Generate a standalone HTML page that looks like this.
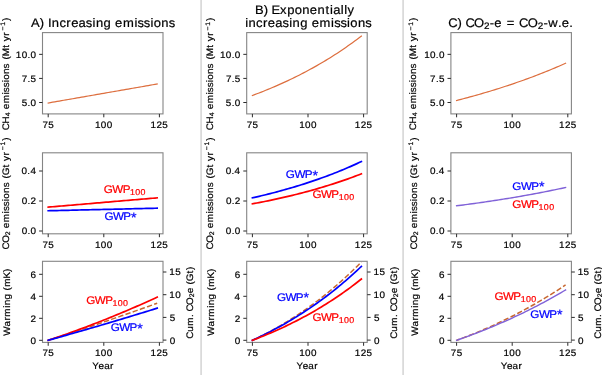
<!DOCTYPE html>
<html><head><meta charset="utf-8"><style>
html,body{margin:0;padding:0;background:#fff;}
body{width:602px;height:375px;overflow:hidden;font-family:"Liberation Sans", sans-serif;}
svg{display:block;will-change:transform;text-rendering:geometricPrecision;}
</style></head><body>
<svg width="602" height="375" viewBox="0 0 602 375" font-family='"Liberation Sans", sans-serif'>
<rect width="602" height="375" fill="#fff"/>
<rect x="200.3" y="0" width="1.6" height="375" fill="#d6d6d6"/>
<rect x="402.3" y="0" width="1.6" height="375" fill="#d6d6d6"/>
<path d="M48.20,102.98 L50.42,102.59 L52.65,102.21 L54.87,101.82 L57.10,101.43 L59.32,101.05 L61.54,100.66 L63.77,100.27 L65.99,99.88 L68.22,99.50 L70.44,99.11 L72.66,98.72 L74.89,98.34 L77.11,97.95 L79.34,97.56 L81.56,97.17 L83.78,96.79 L86.01,96.40 L88.23,96.01 L90.46,95.63 L92.68,95.24 L94.90,94.85 L97.13,94.46 L99.35,94.08 L101.58,93.69 L103.80,93.30 L106.02,92.92 L108.25,92.53 L110.47,92.14 L112.70,91.75 L114.92,91.37 L117.14,90.98 L119.37,90.59 L121.59,90.21 L123.82,89.82 L126.04,89.43 L128.26,89.04 L130.49,88.66 L132.71,88.27 L134.94,87.88 L137.16,87.49 L139.38,87.11 L141.61,86.72 L143.83,86.33 L146.06,85.95 L148.28,85.56 L150.50,85.17 L152.73,84.78 L154.95,84.40 L157.18,84.01" fill="none" stroke="#dd6e3e" stroke-width="1.2" stroke-linecap="square" stroke-linejoin="round"/>
<path d="M48.20,207.15 L50.42,206.96 L52.65,206.77 L54.87,206.58 L57.10,206.39 L59.32,206.20 L61.54,206.01 L63.77,205.82 L65.99,205.63 L68.22,205.44 L70.44,205.25 L72.66,205.06 L74.89,204.87 L77.11,204.68 L79.34,204.49 L81.56,204.30 L83.78,204.11 L86.01,203.92 L88.23,203.73 L90.46,203.54 L92.68,203.35 L94.90,203.16 L97.13,202.97 L99.35,202.78 L101.58,202.59 L103.80,202.41 L106.02,202.22 L108.25,202.03 L110.47,201.84 L112.70,201.65 L114.92,201.46 L117.14,201.27 L119.37,201.08 L121.59,200.89 L123.82,200.70 L126.04,200.51 L128.26,200.32 L130.49,200.13 L132.71,199.94 L134.94,199.75 L137.16,199.56 L139.38,199.37 L141.61,199.18 L143.83,198.99 L146.06,198.80 L148.28,198.61 L150.50,198.42 L152.73,198.23 L154.95,198.04 L157.18,197.85" fill="none" stroke="#ff0000" stroke-width="1.7" stroke-linecap="square" stroke-linejoin="round"/>
<path d="M48.20,210.75 L50.42,210.70 L52.65,210.65 L54.87,210.59 L57.10,210.54 L59.32,210.49 L61.54,210.44 L63.77,210.39 L65.99,210.33 L68.22,210.28 L70.44,210.23 L72.66,210.18 L74.89,210.13 L77.11,210.07 L79.34,210.02 L81.56,209.97 L83.78,209.92 L86.01,209.87 L88.23,209.81 L90.46,209.76 L92.68,209.71 L94.90,209.66 L97.13,209.61 L99.35,209.55 L101.58,209.50 L103.80,209.45 L106.02,209.40 L108.25,209.34 L110.47,209.29 L112.70,209.24 L114.92,209.19 L117.14,209.14 L119.37,209.08 L121.59,209.03 L123.82,208.98 L126.04,208.93 L128.26,208.88 L130.49,208.82 L132.71,208.77 L134.94,208.72 L137.16,208.67 L139.38,208.62 L141.61,208.56 L143.83,208.51 L146.06,208.46 L148.28,208.41 L150.50,208.36 L152.73,208.30 L154.95,208.25 L157.18,208.20" fill="none" stroke="#0000ff" stroke-width="1.7" stroke-linecap="square" stroke-linejoin="round"/>
<path d="M48.20,340.30 L50.42,339.59 L52.65,338.87 L54.87,338.16 L57.10,337.44 L59.32,336.72 L61.54,336.00 L63.77,335.27 L65.99,334.55 L68.22,333.82 L70.44,333.09 L72.66,332.36 L74.89,331.63 L77.11,330.89 L79.34,330.16 L81.56,329.42 L83.78,328.68 L86.01,327.94 L88.23,327.19 L90.46,326.45 L92.68,325.70 L94.90,324.95 L97.13,324.20 L99.35,323.45 L101.58,322.69 L103.80,321.94 L106.02,321.18 L108.25,320.42 L110.47,319.65 L112.70,318.89 L114.92,318.13 L117.14,317.36 L119.37,316.59 L121.59,315.82 L123.82,315.04 L126.04,314.27 L128.26,313.49 L130.49,312.71 L132.71,311.93 L134.94,311.15 L137.16,310.37 L139.38,309.58 L141.61,308.79 L143.83,308.01 L146.06,307.21 L148.28,306.42 L150.50,305.63 L152.73,304.83 L154.95,304.03 L157.18,303.23" fill="none" stroke="#c8672f" stroke-width="1.5" stroke-dasharray="5.3,2.3" stroke-linecap="butt" stroke-linejoin="round" stroke-dashoffset="2.1"/>
<path d="M48.20,340.30 L50.42,339.56 L52.65,338.82 L54.87,338.06 L57.10,337.31 L59.32,336.54 L61.54,335.78 L63.77,335.00 L65.99,334.22 L68.22,333.43 L70.44,332.64 L72.66,331.84 L74.89,331.04 L77.11,330.23 L79.34,329.42 L81.56,328.59 L83.78,327.77 L86.01,326.93 L88.23,326.10 L90.46,325.25 L92.68,324.40 L94.90,323.54 L97.13,322.68 L99.35,321.81 L101.58,320.94 L103.80,320.06 L106.02,319.17 L108.25,318.28 L110.47,317.38 L112.70,316.48 L114.92,315.57 L117.14,314.66 L119.37,313.73 L121.59,312.81 L123.82,311.87 L126.04,310.94 L128.26,309.99 L130.49,309.04 L132.71,308.08 L134.94,307.12 L137.16,306.15 L139.38,305.18 L141.61,304.20 L143.83,303.22 L146.06,302.22 L148.28,301.23 L150.50,300.22 L152.73,299.22 L154.95,298.20 L157.18,297.18" fill="none" stroke="#ff0000" stroke-width="1.7" stroke-linecap="square" stroke-linejoin="round"/>
<path d="M48.20,340.30 L50.42,339.68 L52.65,339.06 L54.87,338.44 L57.10,337.82 L59.32,337.20 L61.54,336.57 L63.77,335.94 L65.99,335.32 L68.22,334.69 L70.44,334.05 L72.66,333.42 L74.89,332.79 L77.11,332.15 L79.34,331.51 L81.56,330.87 L83.78,330.23 L86.01,329.59 L88.23,328.94 L90.46,328.30 L92.68,327.65 L94.90,327.00 L97.13,326.35 L99.35,325.70 L101.58,325.04 L103.80,324.39 L106.02,323.73 L108.25,323.07 L110.47,322.41 L112.70,321.75 L114.92,321.09 L117.14,320.42 L119.37,319.75 L121.59,319.09 L123.82,318.42 L126.04,317.75 L128.26,317.07 L130.49,316.40 L132.71,315.72 L134.94,315.04 L137.16,314.36 L139.38,313.68 L141.61,313.00 L143.83,312.32 L146.06,311.63 L148.28,310.94 L150.50,310.26 L152.73,309.57 L154.95,308.87 L157.18,308.18" fill="none" stroke="#0000ff" stroke-width="1.7" stroke-linecap="square" stroke-linejoin="round"/>
<rect x="42.5" y="32.6" width="120.50" height="81.30" fill="none" stroke="#858585" stroke-width="1.1"/>
<line x1="48.20" y1="113.9" x2="48.20" y2="117.30" stroke="#2a2a2a" stroke-width="1.0"/>
<text transform="translate(48.20,127.90) scale(1.05,1)" fill="#000" stroke="#000" stroke-width="0.2"><tspan x="-5.47 0.14" y="0.00" font-size="9.44">75</tspan></text>
<line x1="103.80" y1="113.9" x2="103.80" y2="117.30" stroke="#2a2a2a" stroke-width="1.0"/>
<text transform="translate(103.80,127.90) scale(1.05,1)" fill="#000" stroke="#000" stroke-width="0.2"><tspan x="-8.40 -2.80 2.81" y="0.00" font-size="9.44">100</tspan></text>
<line x1="159.40" y1="113.9" x2="159.40" y2="117.30" stroke="#2a2a2a" stroke-width="1.0"/>
<text transform="translate(159.40,127.90) scale(1.05,1)" fill="#000" stroke="#000" stroke-width="0.2"><tspan x="-8.39 -2.78 2.82" y="0.00" font-size="9.44">125</tspan></text>
<line x1="39.10" y1="54.35" x2="42.5" y2="54.35" stroke="#2a2a2a" stroke-width="1.0"/>
<text transform="translate(35.60,57.75) scale(1.05,1)" fill="#000" stroke="#000" stroke-width="0.2"><tspan x="-18.89 -13.28 -7.77 -4.88" y="0.00" font-size="9.44">10.0</tspan></text>
<line x1="39.10" y1="78.42" x2="42.5" y2="78.42" stroke="#2a2a2a" stroke-width="1.0"/>
<text transform="translate(35.60,81.83) scale(1.05,1)" fill="#000" stroke="#000" stroke-width="0.2"><tspan x="-13.26 -7.74 -4.85" y="0.00" font-size="9.44">7.5</tspan></text>
<line x1="39.10" y1="102.50" x2="42.5" y2="102.50" stroke="#2a2a2a" stroke-width="1.0"/>
<text transform="translate(35.60,105.90) scale(1.05,1)" fill="#000" stroke="#000" stroke-width="0.2"><tspan x="-13.28 -7.77 -4.88" y="0.00" font-size="9.44">5.0</tspan></text>
<rect x="42.5" y="152.8" width="120.50" height="81.00" fill="none" stroke="#858585" stroke-width="1.1"/>
<line x1="48.20" y1="233.8" x2="48.20" y2="237.20" stroke="#2a2a2a" stroke-width="1.0"/>
<text transform="translate(48.20,247.80) scale(1.05,1)" fill="#000" stroke="#000" stroke-width="0.2"><tspan x="-5.47 0.14" y="0.00" font-size="9.44">75</tspan></text>
<line x1="103.80" y1="233.8" x2="103.80" y2="237.20" stroke="#2a2a2a" stroke-width="1.0"/>
<text transform="translate(103.80,247.80) scale(1.05,1)" fill="#000" stroke="#000" stroke-width="0.2"><tspan x="-8.40 -2.80 2.81" y="0.00" font-size="9.44">100</tspan></text>
<line x1="159.40" y1="233.8" x2="159.40" y2="237.20" stroke="#2a2a2a" stroke-width="1.0"/>
<text transform="translate(159.40,247.80) scale(1.05,1)" fill="#000" stroke="#000" stroke-width="0.2"><tspan x="-8.39 -2.78 2.82" y="0.00" font-size="9.44">125</tspan></text>
<line x1="39.10" y1="171.00" x2="42.5" y2="171.00" stroke="#2a2a2a" stroke-width="1.0"/>
<text transform="translate(35.60,174.40) scale(1.05,1)" fill="#000" stroke="#000" stroke-width="0.2"><tspan x="-13.38 -7.86 -4.97" y="0.00" font-size="9.44">0.4</tspan></text>
<line x1="39.10" y1="201.00" x2="42.5" y2="201.00" stroke="#2a2a2a" stroke-width="1.0"/>
<text transform="translate(35.60,204.40) scale(1.05,1)" fill="#000" stroke="#000" stroke-width="0.2"><tspan x="-13.18 -7.66 -4.77" y="0.00" font-size="9.44">0.2</tspan></text>
<line x1="39.10" y1="231.00" x2="42.5" y2="231.00" stroke="#2a2a2a" stroke-width="1.0"/>
<text transform="translate(35.60,234.40) scale(1.05,1)" fill="#000" stroke="#000" stroke-width="0.2"><tspan x="-13.28 -7.77 -4.88" y="0.00" font-size="9.44">0.0</tspan></text>
<rect x="42.5" y="261.3" width="120.50" height="81.10" fill="none" stroke="#858585" stroke-width="1.1"/>
<line x1="48.20" y1="342.4" x2="48.20" y2="345.80" stroke="#2a2a2a" stroke-width="1.0"/>
<text transform="translate(48.20,356.40) scale(1.05,1)" fill="#000" stroke="#000" stroke-width="0.2"><tspan x="-5.47 0.14" y="0.00" font-size="9.44">75</tspan></text>
<line x1="103.80" y1="342.4" x2="103.80" y2="345.80" stroke="#2a2a2a" stroke-width="1.0"/>
<text transform="translate(103.80,356.40) scale(1.05,1)" fill="#000" stroke="#000" stroke-width="0.2"><tspan x="-8.40 -2.80 2.81" y="0.00" font-size="9.44">100</tspan></text>
<line x1="159.40" y1="342.4" x2="159.40" y2="345.80" stroke="#2a2a2a" stroke-width="1.0"/>
<text transform="translate(159.40,356.40) scale(1.05,1)" fill="#000" stroke="#000" stroke-width="0.2"><tspan x="-8.39 -2.78 2.82" y="0.00" font-size="9.44">125</tspan></text>
<line x1="39.10" y1="274.30" x2="42.5" y2="274.30" stroke="#2a2a2a" stroke-width="1.0"/>
<text transform="translate(35.60,277.70) scale(1.05,1)" fill="#000" stroke="#000" stroke-width="0.2"><tspan x="-4.83" y="0.00" font-size="9.44">6</tspan></text>
<line x1="39.10" y1="296.30" x2="42.5" y2="296.30" stroke="#2a2a2a" stroke-width="1.0"/>
<text transform="translate(35.60,299.70) scale(1.05,1)" fill="#000" stroke="#000" stroke-width="0.2"><tspan x="-4.97" y="0.00" font-size="9.44">4</tspan></text>
<line x1="39.10" y1="318.30" x2="42.5" y2="318.30" stroke="#2a2a2a" stroke-width="1.0"/>
<text transform="translate(35.60,321.70) scale(1.05,1)" fill="#000" stroke="#000" stroke-width="0.2"><tspan x="-4.77" y="0.00" font-size="9.44">2</tspan></text>
<line x1="39.10" y1="340.30" x2="42.5" y2="340.30" stroke="#2a2a2a" stroke-width="1.0"/>
<text transform="translate(35.60,343.70) scale(1.05,1)" fill="#000" stroke="#000" stroke-width="0.2"><tspan x="-4.88" y="0.00" font-size="9.44">0</tspan></text>
<line x1="163.0" y1="340.10" x2="166.40" y2="340.10" stroke="#2a2a2a" stroke-width="1.0"/>
<text transform="translate(170.10,343.50) scale(1.05,1)" fill="#000" stroke="#000" stroke-width="0.2"><tspan x="-0.37" y="0.00" font-size="9.44">0</tspan></text>
<line x1="163.0" y1="317.40" x2="166.40" y2="317.40" stroke="#2a2a2a" stroke-width="1.0"/>
<text transform="translate(170.10,320.80) scale(1.05,1)" fill="#000" stroke="#000" stroke-width="0.2"><tspan x="-0.38" y="0.00" font-size="9.44">5</tspan></text>
<line x1="163.0" y1="294.70" x2="166.40" y2="294.70" stroke="#2a2a2a" stroke-width="1.0"/>
<text transform="translate(170.10,298.10) scale(1.05,1)" fill="#000" stroke="#000" stroke-width="0.2"><tspan x="-0.72 4.89" y="0.00" font-size="9.44">10</tspan></text>
<line x1="163.0" y1="272.00" x2="166.40" y2="272.00" stroke="#2a2a2a" stroke-width="1.0"/>
<text transform="translate(170.10,275.40) scale(1.05,1)" fill="#000" stroke="#000" stroke-width="0.2"><tspan x="-0.72 4.89" y="0.00" font-size="9.44">15</tspan></text>
<text transform="translate(8.80,129.70) rotate(-90) scale(1.05,1)" fill="#000" stroke="#000" stroke-width="0.2"><tspan x="-0.48 5.91" y="0.00" font-size="9.44">CH</tspan><tspan x="12.75" y="1.00" font-size="6.60">4</tspan><tspan x="16.64 19.44 25.13 33.53 35.74 40.33 45.16 47.50 52.99 58.34 63.94 66.80 69.96 78.10 81.23 84.19 89.39" y="0.00" font-size="9.44"> emissions (Mt yr</tspan><tspan x="94.38 99.02" y="-3.60" font-size="6.60">−1</tspan><tspan x="103.54" y="0.00" font-size="9.44">)</tspan></text>
<text transform="translate(8.70,248.90) rotate(-90) scale(1.05,1)" fill="#000" stroke="#000" stroke-width="0.2"><tspan x="-0.48 5.80" y="0.00" font-size="9.44">CO</tspan><tspan x="13.06" y="1.00" font-size="6.60">2</tspan><tspan x="16.95 19.75 25.44 33.84 36.05 40.64 45.47 47.81 53.29 58.65 64.25 67.10 70.14 77.64 80.76 83.72 88.93" y="0.00" font-size="9.44"> emissions (Gt yr</tspan><tspan x="93.92 98.56" y="-3.60" font-size="6.60">−1</tspan><tspan x="103.07" y="0.00" font-size="9.44">)</tspan></text>
<text transform="translate(9.90,335.70) rotate(-90) scale(1.05,1)" fill="#000" stroke="#000" stroke-width="0.2"><tspan x="-0.04 8.84 14.40 18.15 26.54 28.98 34.57 40.08 42.94 46.59 54.55 60.73" y="0.00" font-size="9.44">Warming (mK)</tspan></text>
<text transform="translate(192.70,338.20) rotate(-90) scale(1.05,1)" fill="#000" stroke="#000" stroke-width="0.2"><tspan x="-0.48 6.17 11.95 20.26 23.06 25.44 31.72" y="0.00" font-size="9.44">Cum. CO</tspan><tspan x="38.98" y="1.00" font-size="6.60">2</tspan><tspan x="42.86 48.29 51.15 54.18 61.68 64.86" y="0.00" font-size="9.44">e (Gt)</tspan></text>
<text transform="translate(102.80,369.00) scale(1.05,1)" fill="#000" stroke="#000" stroke-width="0.2"><tspan x="-10.05 -4.12 1.29 6.85" y="0.00" font-size="9.44">Year</tspan></text>
<path d="M252.40,95.47 L254.62,94.64 L256.85,93.80 L259.07,92.95 L261.30,92.08 L263.52,91.20 L265.74,90.30 L267.97,89.40 L270.19,88.48 L272.42,87.54 L274.64,86.59 L276.86,85.63 L279.09,84.66 L281.31,83.66 L283.54,82.66 L285.76,81.64 L287.98,80.60 L290.21,79.55 L292.43,78.48 L294.66,77.39 L296.88,76.29 L299.10,75.17 L301.33,74.04 L303.55,72.89 L305.78,71.72 L308.00,70.53 L310.22,69.33 L312.45,68.11 L314.67,66.87 L316.90,65.61 L319.12,64.33 L321.34,63.03 L323.57,61.72 L325.79,60.38 L328.02,59.03 L330.24,57.65 L332.46,56.25 L334.69,54.83 L336.91,53.39 L339.14,51.93 L341.36,50.45 L343.58,48.94 L345.81,47.41 L348.03,45.86 L350.26,44.29 L352.48,42.69 L354.70,41.07 L356.93,39.42 L359.15,37.75 L361.38,36.05" fill="none" stroke="#dd6e3e" stroke-width="1.2" stroke-linecap="square" stroke-linejoin="round"/>
<path d="M252.40,197.85 L254.62,197.35 L256.85,196.83 L259.07,196.31 L261.30,195.79 L263.52,195.25 L265.74,194.71 L267.97,194.16 L270.19,193.60 L272.42,193.03 L274.64,192.45 L276.86,191.86 L279.09,191.27 L281.31,190.66 L283.54,190.05 L285.76,189.43 L287.98,188.80 L290.21,188.15 L292.43,187.50 L294.66,186.84 L296.88,186.17 L299.10,185.49 L301.33,184.79 L303.55,184.09 L305.78,183.38 L308.00,182.65 L310.22,181.92 L312.45,181.17 L314.67,180.42 L316.90,179.65 L319.12,178.86 L321.34,178.07 L323.57,177.27 L325.79,176.45 L328.02,175.62 L330.24,174.78 L332.46,173.92 L334.69,173.06 L336.91,172.17 L339.14,171.28 L341.36,170.37 L343.58,169.45 L345.81,168.51 L348.03,167.56 L350.26,166.60 L352.48,165.62 L354.70,164.62 L356.93,163.62 L359.15,162.59 L361.38,161.55" fill="none" stroke="#0000ff" stroke-width="1.7" stroke-linecap="square" stroke-linejoin="round"/>
<path d="M252.40,203.85 L254.62,203.43 L256.85,203.01 L259.07,202.58 L261.30,202.15 L263.52,201.71 L265.74,201.26 L267.97,200.80 L270.19,200.34 L272.42,199.87 L274.64,199.40 L276.86,198.91 L279.09,198.42 L281.31,197.92 L283.54,197.42 L285.76,196.90 L287.98,196.38 L290.21,195.85 L292.43,195.31 L294.66,194.77 L296.88,194.21 L299.10,193.65 L301.33,193.08 L303.55,192.50 L305.78,191.91 L308.00,191.31 L310.22,190.70 L312.45,190.08 L314.67,189.46 L316.90,188.82 L319.12,188.18 L321.34,187.52 L323.57,186.86 L325.79,186.18 L328.02,185.49 L330.24,184.80 L332.46,184.09 L334.69,183.37 L336.91,182.64 L339.14,181.90 L341.36,181.15 L343.58,180.39 L345.81,179.61 L348.03,178.83 L350.26,178.03 L352.48,177.22 L354.70,176.40 L356.93,175.56 L359.15,174.71 L361.38,173.85" fill="none" stroke="#ff0000" stroke-width="1.7" stroke-linecap="square" stroke-linejoin="round"/>
<path d="M252.40,340.30 L254.62,339.26 L256.85,338.19 L259.07,337.11 L261.30,336.00 L263.52,334.87 L265.74,333.71 L267.97,332.54 L270.19,331.35 L272.42,330.13 L274.64,328.90 L276.86,327.64 L279.09,326.36 L281.31,325.06 L283.54,323.74 L285.76,322.40 L287.98,321.04 L290.21,319.66 L292.43,318.25 L294.66,316.82 L296.88,315.37 L299.10,313.89 L301.33,312.39 L303.55,310.87 L305.78,309.32 L308.00,307.75 L310.22,306.16 L312.45,304.54 L314.67,302.90 L316.90,301.23 L319.12,299.53 L321.34,297.81 L323.57,296.06 L325.79,294.29 L328.02,292.49 L330.24,290.66 L332.46,288.81 L334.69,286.92 L336.91,285.01 L339.14,283.07 L341.36,281.10 L343.58,279.10 L345.81,277.07 L348.03,275.01 L350.26,272.92 L352.48,270.79 L354.70,268.64 L356.93,266.45 L359.15,264.23 L361.38,261.98" fill="none" stroke="#c8672f" stroke-width="1.5" stroke-dasharray="5.3,2.3" stroke-linecap="butt" stroke-linejoin="round" stroke-dashoffset="2.1"/>
<path d="M252.40,340.30 L254.62,339.27 L256.85,338.23 L259.07,337.17 L261.30,336.10 L263.52,335.01 L265.74,333.90 L267.97,332.78 L270.19,331.64 L272.42,330.48 L274.64,329.30 L276.86,328.11 L279.09,326.90 L281.31,325.67 L283.54,324.42 L285.76,323.15 L287.98,321.86 L290.21,320.55 L292.43,319.23 L294.66,317.88 L296.88,316.51 L299.10,315.12 L301.33,313.71 L303.55,312.28 L305.78,310.83 L308.00,309.36 L310.22,307.86 L312.45,306.34 L314.67,304.80 L316.90,303.23 L319.12,301.64 L321.34,300.03 L323.57,298.39 L325.79,296.72 L328.02,295.03 L330.24,293.32 L332.46,291.58 L334.69,289.81 L336.91,288.01 L339.14,286.19 L341.36,284.34 L343.58,282.47 L345.81,280.56 L348.03,278.62 L350.26,276.66 L352.48,274.67 L354.70,272.64 L356.93,270.59 L359.15,268.50 L361.38,266.38" fill="none" stroke="#0000ff" stroke-width="1.7" stroke-linecap="square" stroke-linejoin="round"/>
<path d="M252.40,340.30 L254.62,339.45 L256.85,338.59 L259.07,337.71 L261.30,336.83 L263.52,335.92 L265.74,335.01 L267.97,334.08 L270.19,333.14 L272.42,332.18 L274.64,331.20 L276.86,330.22 L279.09,329.21 L281.31,328.19 L283.54,327.16 L285.76,326.11 L287.98,325.04 L290.21,323.96 L292.43,322.86 L294.66,321.75 L296.88,320.62 L299.10,319.47 L301.33,318.30 L303.55,317.11 L305.78,315.91 L308.00,314.69 L310.22,313.45 L312.45,312.19 L314.67,310.91 L316.90,309.61 L319.12,308.29 L321.34,306.95 L323.57,305.59 L325.79,304.21 L328.02,302.81 L330.24,301.39 L332.46,299.95 L334.69,298.48 L336.91,296.99 L339.14,295.48 L341.36,293.94 L343.58,292.39 L345.81,290.80 L348.03,289.20 L350.26,287.57 L352.48,285.91 L354.70,284.23 L356.93,282.52 L359.15,280.79 L361.38,279.03" fill="none" stroke="#ff0000" stroke-width="1.7" stroke-linecap="square" stroke-linejoin="round"/>
<rect x="246.7" y="32.6" width="120.50" height="81.30" fill="none" stroke="#858585" stroke-width="1.1"/>
<line x1="252.40" y1="113.9" x2="252.40" y2="117.30" stroke="#2a2a2a" stroke-width="1.0"/>
<text transform="translate(252.40,127.90) scale(1.05,1)" fill="#000" stroke="#000" stroke-width="0.2"><tspan x="-5.47 0.14" y="0.00" font-size="9.44">75</tspan></text>
<line x1="308.00" y1="113.9" x2="308.00" y2="117.30" stroke="#2a2a2a" stroke-width="1.0"/>
<text transform="translate(308.00,127.90) scale(1.05,1)" fill="#000" stroke="#000" stroke-width="0.2"><tspan x="-8.40 -2.80 2.81" y="0.00" font-size="9.44">100</tspan></text>
<line x1="363.60" y1="113.9" x2="363.60" y2="117.30" stroke="#2a2a2a" stroke-width="1.0"/>
<text transform="translate(363.60,127.90) scale(1.05,1)" fill="#000" stroke="#000" stroke-width="0.2"><tspan x="-8.39 -2.78 2.82" y="0.00" font-size="9.44">125</tspan></text>
<line x1="243.30" y1="54.35" x2="246.7" y2="54.35" stroke="#2a2a2a" stroke-width="1.0"/>
<text transform="translate(239.80,57.75) scale(1.05,1)" fill="#000" stroke="#000" stroke-width="0.2"><tspan x="-18.89 -13.28 -7.77 -4.88" y="0.00" font-size="9.44">10.0</tspan></text>
<line x1="243.30" y1="78.42" x2="246.7" y2="78.42" stroke="#2a2a2a" stroke-width="1.0"/>
<text transform="translate(239.80,81.83) scale(1.05,1)" fill="#000" stroke="#000" stroke-width="0.2"><tspan x="-13.26 -7.74 -4.85" y="0.00" font-size="9.44">7.5</tspan></text>
<line x1="243.30" y1="102.50" x2="246.7" y2="102.50" stroke="#2a2a2a" stroke-width="1.0"/>
<text transform="translate(239.80,105.90) scale(1.05,1)" fill="#000" stroke="#000" stroke-width="0.2"><tspan x="-13.28 -7.77 -4.88" y="0.00" font-size="9.44">5.0</tspan></text>
<rect x="246.7" y="152.8" width="120.50" height="81.00" fill="none" stroke="#858585" stroke-width="1.1"/>
<line x1="252.40" y1="233.8" x2="252.40" y2="237.20" stroke="#2a2a2a" stroke-width="1.0"/>
<text transform="translate(252.40,247.80) scale(1.05,1)" fill="#000" stroke="#000" stroke-width="0.2"><tspan x="-5.47 0.14" y="0.00" font-size="9.44">75</tspan></text>
<line x1="308.00" y1="233.8" x2="308.00" y2="237.20" stroke="#2a2a2a" stroke-width="1.0"/>
<text transform="translate(308.00,247.80) scale(1.05,1)" fill="#000" stroke="#000" stroke-width="0.2"><tspan x="-8.40 -2.80 2.81" y="0.00" font-size="9.44">100</tspan></text>
<line x1="363.60" y1="233.8" x2="363.60" y2="237.20" stroke="#2a2a2a" stroke-width="1.0"/>
<text transform="translate(363.60,247.80) scale(1.05,1)" fill="#000" stroke="#000" stroke-width="0.2"><tspan x="-8.39 -2.78 2.82" y="0.00" font-size="9.44">125</tspan></text>
<line x1="243.30" y1="171.00" x2="246.7" y2="171.00" stroke="#2a2a2a" stroke-width="1.0"/>
<text transform="translate(239.80,174.40) scale(1.05,1)" fill="#000" stroke="#000" stroke-width="0.2"><tspan x="-13.38 -7.86 -4.97" y="0.00" font-size="9.44">0.4</tspan></text>
<line x1="243.30" y1="201.00" x2="246.7" y2="201.00" stroke="#2a2a2a" stroke-width="1.0"/>
<text transform="translate(239.80,204.40) scale(1.05,1)" fill="#000" stroke="#000" stroke-width="0.2"><tspan x="-13.18 -7.66 -4.77" y="0.00" font-size="9.44">0.2</tspan></text>
<line x1="243.30" y1="231.00" x2="246.7" y2="231.00" stroke="#2a2a2a" stroke-width="1.0"/>
<text transform="translate(239.80,234.40) scale(1.05,1)" fill="#000" stroke="#000" stroke-width="0.2"><tspan x="-13.28 -7.77 -4.88" y="0.00" font-size="9.44">0.0</tspan></text>
<rect x="246.7" y="261.3" width="120.50" height="81.10" fill="none" stroke="#858585" stroke-width="1.1"/>
<line x1="252.40" y1="342.4" x2="252.40" y2="345.80" stroke="#2a2a2a" stroke-width="1.0"/>
<text transform="translate(252.40,356.40) scale(1.05,1)" fill="#000" stroke="#000" stroke-width="0.2"><tspan x="-5.47 0.14" y="0.00" font-size="9.44">75</tspan></text>
<line x1="308.00" y1="342.4" x2="308.00" y2="345.80" stroke="#2a2a2a" stroke-width="1.0"/>
<text transform="translate(308.00,356.40) scale(1.05,1)" fill="#000" stroke="#000" stroke-width="0.2"><tspan x="-8.40 -2.80 2.81" y="0.00" font-size="9.44">100</tspan></text>
<line x1="363.60" y1="342.4" x2="363.60" y2="345.80" stroke="#2a2a2a" stroke-width="1.0"/>
<text transform="translate(363.60,356.40) scale(1.05,1)" fill="#000" stroke="#000" stroke-width="0.2"><tspan x="-8.39 -2.78 2.82" y="0.00" font-size="9.44">125</tspan></text>
<line x1="243.30" y1="274.30" x2="246.7" y2="274.30" stroke="#2a2a2a" stroke-width="1.0"/>
<text transform="translate(239.80,277.70) scale(1.05,1)" fill="#000" stroke="#000" stroke-width="0.2"><tspan x="-4.83" y="0.00" font-size="9.44">6</tspan></text>
<line x1="243.30" y1="296.30" x2="246.7" y2="296.30" stroke="#2a2a2a" stroke-width="1.0"/>
<text transform="translate(239.80,299.70) scale(1.05,1)" fill="#000" stroke="#000" stroke-width="0.2"><tspan x="-4.97" y="0.00" font-size="9.44">4</tspan></text>
<line x1="243.30" y1="318.30" x2="246.7" y2="318.30" stroke="#2a2a2a" stroke-width="1.0"/>
<text transform="translate(239.80,321.70) scale(1.05,1)" fill="#000" stroke="#000" stroke-width="0.2"><tspan x="-4.77" y="0.00" font-size="9.44">2</tspan></text>
<line x1="243.30" y1="340.30" x2="246.7" y2="340.30" stroke="#2a2a2a" stroke-width="1.0"/>
<text transform="translate(239.80,343.70) scale(1.05,1)" fill="#000" stroke="#000" stroke-width="0.2"><tspan x="-4.88" y="0.00" font-size="9.44">0</tspan></text>
<line x1="367.2" y1="340.10" x2="370.60" y2="340.10" stroke="#2a2a2a" stroke-width="1.0"/>
<text transform="translate(374.30,343.50) scale(1.05,1)" fill="#000" stroke="#000" stroke-width="0.2"><tspan x="-0.37" y="0.00" font-size="9.44">0</tspan></text>
<line x1="367.2" y1="317.40" x2="370.60" y2="317.40" stroke="#2a2a2a" stroke-width="1.0"/>
<text transform="translate(374.30,320.80) scale(1.05,1)" fill="#000" stroke="#000" stroke-width="0.2"><tspan x="-0.38" y="0.00" font-size="9.44">5</tspan></text>
<line x1="367.2" y1="294.70" x2="370.60" y2="294.70" stroke="#2a2a2a" stroke-width="1.0"/>
<text transform="translate(374.30,298.10) scale(1.05,1)" fill="#000" stroke="#000" stroke-width="0.2"><tspan x="-0.72 4.89" y="0.00" font-size="9.44">10</tspan></text>
<line x1="367.2" y1="272.00" x2="370.60" y2="272.00" stroke="#2a2a2a" stroke-width="1.0"/>
<text transform="translate(374.30,275.40) scale(1.05,1)" fill="#000" stroke="#000" stroke-width="0.2"><tspan x="-0.72 4.89" y="0.00" font-size="9.44">15</tspan></text>
<text transform="translate(213.10,129.70) rotate(-90) scale(1.05,1)" fill="#000" stroke="#000" stroke-width="0.2"><tspan x="-0.48 5.91" y="0.00" font-size="9.44">CH</tspan><tspan x="12.75" y="1.00" font-size="6.60">4</tspan><tspan x="16.64 19.44 25.13 33.53 35.74 40.33 45.16 47.50 52.99 58.34 63.94 66.80 69.96 78.10 81.23 84.19 89.39" y="0.00" font-size="9.44"> emissions (Mt yr</tspan><tspan x="94.38 99.02" y="-3.60" font-size="6.60">−1</tspan><tspan x="103.54" y="0.00" font-size="9.44">)</tspan></text>
<text transform="translate(212.90,248.90) rotate(-90) scale(1.05,1)" fill="#000" stroke="#000" stroke-width="0.2"><tspan x="-0.48 5.80" y="0.00" font-size="9.44">CO</tspan><tspan x="13.06" y="1.00" font-size="6.60">2</tspan><tspan x="16.95 19.75 25.44 33.84 36.05 40.64 45.47 47.81 53.29 58.65 64.25 67.10 70.14 77.64 80.76 83.72 88.93" y="0.00" font-size="9.44"> emissions (Gt yr</tspan><tspan x="93.92 98.56" y="-3.60" font-size="6.60">−1</tspan><tspan x="103.07" y="0.00" font-size="9.44">)</tspan></text>
<text transform="translate(214.10,335.70) rotate(-90) scale(1.05,1)" fill="#000" stroke="#000" stroke-width="0.2"><tspan x="-0.04 8.84 14.40 18.15 26.54 28.98 34.57 40.08 42.94 46.59 54.55 60.73" y="0.00" font-size="9.44">Warming (mK)</tspan></text>
<text transform="translate(396.90,338.20) rotate(-90) scale(1.05,1)" fill="#000" stroke="#000" stroke-width="0.2"><tspan x="-0.48 6.17 11.95 20.26 23.06 25.44 31.72" y="0.00" font-size="9.44">Cum. CO</tspan><tspan x="38.98" y="1.00" font-size="6.60">2</tspan><tspan x="42.86 48.29 51.15 54.18 61.68 64.86" y="0.00" font-size="9.44">e (Gt)</tspan></text>
<text transform="translate(307.00,369.00) scale(1.05,1)" fill="#000" stroke="#000" stroke-width="0.2"><tspan x="-10.05 -4.12 1.29 6.85" y="0.00" font-size="9.44">Year</tspan></text>
<path d="M456.60,100.48 L458.82,99.91 L461.05,99.33 L463.27,98.75 L465.50,98.15 L467.72,97.56 L469.94,96.95 L472.17,96.34 L474.39,95.72 L476.62,95.10 L478.84,94.47 L481.06,93.83 L483.29,93.18 L485.51,92.53 L487.74,91.87 L489.96,91.20 L492.18,90.52 L494.41,89.84 L496.63,89.15 L498.86,88.45 L501.08,87.74 L503.30,87.02 L505.53,86.30 L507.75,85.57 L509.98,84.82 L512.20,84.08 L514.42,83.32 L516.65,82.55 L518.87,81.78 L521.10,80.99 L523.32,80.20 L525.54,79.40 L527.77,78.59 L529.99,77.77 L532.22,76.94 L534.44,76.10 L536.66,75.25 L538.89,74.39 L541.11,73.53 L543.34,72.65 L545.56,71.76 L547.78,70.86 L550.01,69.96 L552.23,69.04 L554.46,68.11 L556.68,67.17 L558.90,66.22 L561.13,65.26 L563.35,64.29 L565.58,63.31" fill="none" stroke="#dd6e3e" stroke-width="1.2" stroke-linecap="square" stroke-linejoin="round"/>
<path d="M456.60,205.80 L458.82,205.52 L461.05,205.23 L463.27,204.94 L465.50,204.65 L467.72,204.36 L469.94,204.06 L472.17,203.76 L474.39,203.45 L476.62,203.14 L478.84,202.83 L481.06,202.51 L483.29,202.20 L485.51,201.87 L487.74,201.55 L489.96,201.22 L492.18,200.88 L494.41,200.55 L496.63,200.20 L498.86,199.86 L501.08,199.51 L503.30,199.16 L505.53,198.80 L507.75,198.44 L509.98,198.08 L512.20,197.71 L514.42,197.33 L516.65,196.96 L518.87,196.57 L521.10,196.19 L523.32,195.80 L525.54,195.40 L527.77,195.01 L529.99,194.60 L532.22,194.19 L534.44,193.78 L536.66,193.37 L538.89,192.94 L541.11,192.52 L543.34,192.09 L545.56,191.65 L547.78,191.21 L550.01,190.76 L552.23,190.31 L554.46,189.86 L556.68,189.40 L558.90,188.93 L561.13,188.46 L563.35,187.98 L565.58,187.50" fill="none" stroke="#8062d8" stroke-width="1.4" stroke-linecap="square" stroke-linejoin="round"/>
<path d="M456.60,340.30 L458.82,339.51 L461.05,338.70 L463.27,337.87 L465.50,337.02 L467.72,336.16 L469.94,335.29 L472.17,334.41 L474.39,333.51 L476.62,332.59 L478.84,331.67 L481.06,330.73 L483.29,329.78 L485.51,328.81 L487.74,327.83 L489.96,326.84 L492.18,325.84 L494.41,324.82 L496.63,323.79 L498.86,322.75 L501.08,321.69 L503.30,320.62 L505.53,319.54 L507.75,318.45 L509.98,317.34 L512.20,316.21 L514.42,315.08 L516.65,313.93 L518.87,312.76 L521.10,311.59 L523.32,310.40 L525.54,309.19 L527.77,307.97 L529.99,306.74 L532.22,305.49 L534.44,304.23 L536.66,302.95 L538.89,301.66 L541.11,300.35 L543.34,299.03 L545.56,297.69 L547.78,296.34 L550.01,294.98 L552.23,293.59 L554.46,292.20 L556.68,290.78 L558.90,289.35 L561.13,287.91 L563.35,286.45 L565.58,284.97" fill="none" stroke="#c8672f" stroke-width="1.5" stroke-dasharray="5.3,2.3" stroke-linecap="butt" stroke-linejoin="round" stroke-dashoffset="2.1"/>
<path d="M456.60,340.30 L458.82,339.52 L461.05,338.74 L463.27,337.94 L465.50,337.14 L467.72,336.33 L469.94,335.50 L472.17,334.67 L474.39,333.83 L476.62,332.98 L478.84,332.12 L481.06,331.25 L483.29,330.38 L485.51,329.49 L487.74,328.59 L489.96,327.68 L492.18,326.76 L494.41,325.83 L496.63,324.89 L498.86,323.94 L501.08,322.98 L503.30,322.01 L505.53,321.03 L507.75,320.04 L509.98,319.03 L512.20,318.02 L514.42,316.99 L516.65,315.95 L518.87,314.90 L521.10,313.84 L523.32,312.77 L525.54,311.68 L527.77,310.58 L529.99,309.47 L532.22,308.35 L534.44,307.22 L536.66,306.07 L538.89,304.91 L541.11,303.73 L543.34,302.55 L545.56,301.35 L547.78,300.13 L550.01,298.90 L552.23,297.66 L554.46,296.41 L556.68,295.14 L558.90,293.86 L561.13,292.56 L563.35,291.25 L565.58,289.92" fill="none" stroke="#8062d8" stroke-width="1.4" stroke-linecap="square" stroke-linejoin="round"/>
<rect x="450.9" y="32.6" width="120.50" height="81.30" fill="none" stroke="#858585" stroke-width="1.1"/>
<line x1="456.60" y1="113.9" x2="456.60" y2="117.30" stroke="#2a2a2a" stroke-width="1.0"/>
<text transform="translate(456.60,127.90) scale(1.05,1)" fill="#000" stroke="#000" stroke-width="0.2"><tspan x="-5.47 0.14" y="0.00" font-size="9.44">75</tspan></text>
<line x1="512.20" y1="113.9" x2="512.20" y2="117.30" stroke="#2a2a2a" stroke-width="1.0"/>
<text transform="translate(512.20,127.90) scale(1.05,1)" fill="#000" stroke="#000" stroke-width="0.2"><tspan x="-8.40 -2.80 2.81" y="0.00" font-size="9.44">100</tspan></text>
<line x1="567.80" y1="113.9" x2="567.80" y2="117.30" stroke="#2a2a2a" stroke-width="1.0"/>
<text transform="translate(567.80,127.90) scale(1.05,1)" fill="#000" stroke="#000" stroke-width="0.2"><tspan x="-8.39 -2.78 2.82" y="0.00" font-size="9.44">125</tspan></text>
<line x1="447.50" y1="54.35" x2="450.9" y2="54.35" stroke="#2a2a2a" stroke-width="1.0"/>
<text transform="translate(444.00,57.75) scale(1.05,1)" fill="#000" stroke="#000" stroke-width="0.2"><tspan x="-18.89 -13.28 -7.77 -4.88" y="0.00" font-size="9.44">10.0</tspan></text>
<line x1="447.50" y1="78.42" x2="450.9" y2="78.42" stroke="#2a2a2a" stroke-width="1.0"/>
<text transform="translate(444.00,81.83) scale(1.05,1)" fill="#000" stroke="#000" stroke-width="0.2"><tspan x="-13.26 -7.74 -4.85" y="0.00" font-size="9.44">7.5</tspan></text>
<line x1="447.50" y1="102.50" x2="450.9" y2="102.50" stroke="#2a2a2a" stroke-width="1.0"/>
<text transform="translate(444.00,105.90) scale(1.05,1)" fill="#000" stroke="#000" stroke-width="0.2"><tspan x="-13.28 -7.77 -4.88" y="0.00" font-size="9.44">5.0</tspan></text>
<rect x="450.9" y="152.8" width="120.50" height="81.00" fill="none" stroke="#858585" stroke-width="1.1"/>
<line x1="456.60" y1="233.8" x2="456.60" y2="237.20" stroke="#2a2a2a" stroke-width="1.0"/>
<text transform="translate(456.60,247.80) scale(1.05,1)" fill="#000" stroke="#000" stroke-width="0.2"><tspan x="-5.47 0.14" y="0.00" font-size="9.44">75</tspan></text>
<line x1="512.20" y1="233.8" x2="512.20" y2="237.20" stroke="#2a2a2a" stroke-width="1.0"/>
<text transform="translate(512.20,247.80) scale(1.05,1)" fill="#000" stroke="#000" stroke-width="0.2"><tspan x="-8.40 -2.80 2.81" y="0.00" font-size="9.44">100</tspan></text>
<line x1="567.80" y1="233.8" x2="567.80" y2="237.20" stroke="#2a2a2a" stroke-width="1.0"/>
<text transform="translate(567.80,247.80) scale(1.05,1)" fill="#000" stroke="#000" stroke-width="0.2"><tspan x="-8.39 -2.78 2.82" y="0.00" font-size="9.44">125</tspan></text>
<line x1="447.50" y1="171.00" x2="450.9" y2="171.00" stroke="#2a2a2a" stroke-width="1.0"/>
<text transform="translate(444.00,174.40) scale(1.05,1)" fill="#000" stroke="#000" stroke-width="0.2"><tspan x="-13.38 -7.86 -4.97" y="0.00" font-size="9.44">0.4</tspan></text>
<line x1="447.50" y1="201.00" x2="450.9" y2="201.00" stroke="#2a2a2a" stroke-width="1.0"/>
<text transform="translate(444.00,204.40) scale(1.05,1)" fill="#000" stroke="#000" stroke-width="0.2"><tspan x="-13.18 -7.66 -4.77" y="0.00" font-size="9.44">0.2</tspan></text>
<line x1="447.50" y1="231.00" x2="450.9" y2="231.00" stroke="#2a2a2a" stroke-width="1.0"/>
<text transform="translate(444.00,234.40) scale(1.05,1)" fill="#000" stroke="#000" stroke-width="0.2"><tspan x="-13.28 -7.77 -4.88" y="0.00" font-size="9.44">0.0</tspan></text>
<rect x="450.9" y="261.3" width="120.50" height="81.10" fill="none" stroke="#858585" stroke-width="1.1"/>
<line x1="456.60" y1="342.4" x2="456.60" y2="345.80" stroke="#2a2a2a" stroke-width="1.0"/>
<text transform="translate(456.60,356.40) scale(1.05,1)" fill="#000" stroke="#000" stroke-width="0.2"><tspan x="-5.47 0.14" y="0.00" font-size="9.44">75</tspan></text>
<line x1="512.20" y1="342.4" x2="512.20" y2="345.80" stroke="#2a2a2a" stroke-width="1.0"/>
<text transform="translate(512.20,356.40) scale(1.05,1)" fill="#000" stroke="#000" stroke-width="0.2"><tspan x="-8.40 -2.80 2.81" y="0.00" font-size="9.44">100</tspan></text>
<line x1="567.80" y1="342.4" x2="567.80" y2="345.80" stroke="#2a2a2a" stroke-width="1.0"/>
<text transform="translate(567.80,356.40) scale(1.05,1)" fill="#000" stroke="#000" stroke-width="0.2"><tspan x="-8.39 -2.78 2.82" y="0.00" font-size="9.44">125</tspan></text>
<line x1="447.50" y1="274.30" x2="450.9" y2="274.30" stroke="#2a2a2a" stroke-width="1.0"/>
<text transform="translate(444.00,277.70) scale(1.05,1)" fill="#000" stroke="#000" stroke-width="0.2"><tspan x="-4.83" y="0.00" font-size="9.44">6</tspan></text>
<line x1="447.50" y1="296.30" x2="450.9" y2="296.30" stroke="#2a2a2a" stroke-width="1.0"/>
<text transform="translate(444.00,299.70) scale(1.05,1)" fill="#000" stroke="#000" stroke-width="0.2"><tspan x="-4.97" y="0.00" font-size="9.44">4</tspan></text>
<line x1="447.50" y1="318.30" x2="450.9" y2="318.30" stroke="#2a2a2a" stroke-width="1.0"/>
<text transform="translate(444.00,321.70) scale(1.05,1)" fill="#000" stroke="#000" stroke-width="0.2"><tspan x="-4.77" y="0.00" font-size="9.44">2</tspan></text>
<line x1="447.50" y1="340.30" x2="450.9" y2="340.30" stroke="#2a2a2a" stroke-width="1.0"/>
<text transform="translate(444.00,343.70) scale(1.05,1)" fill="#000" stroke="#000" stroke-width="0.2"><tspan x="-4.88" y="0.00" font-size="9.44">0</tspan></text>
<line x1="571.4" y1="340.10" x2="574.80" y2="340.10" stroke="#2a2a2a" stroke-width="1.0"/>
<text transform="translate(578.50,343.50) scale(1.05,1)" fill="#000" stroke="#000" stroke-width="0.2"><tspan x="-0.37" y="0.00" font-size="9.44">0</tspan></text>
<line x1="571.4" y1="317.40" x2="574.80" y2="317.40" stroke="#2a2a2a" stroke-width="1.0"/>
<text transform="translate(578.50,320.80) scale(1.05,1)" fill="#000" stroke="#000" stroke-width="0.2"><tspan x="-0.38" y="0.00" font-size="9.44">5</tspan></text>
<line x1="571.4" y1="294.70" x2="574.80" y2="294.70" stroke="#2a2a2a" stroke-width="1.0"/>
<text transform="translate(578.50,298.10) scale(1.05,1)" fill="#000" stroke="#000" stroke-width="0.2"><tspan x="-0.72 4.89" y="0.00" font-size="9.44">10</tspan></text>
<line x1="571.4" y1="272.00" x2="574.80" y2="272.00" stroke="#2a2a2a" stroke-width="1.0"/>
<text transform="translate(578.50,275.40) scale(1.05,1)" fill="#000" stroke="#000" stroke-width="0.2"><tspan x="-0.72 4.89" y="0.00" font-size="9.44">15</tspan></text>
<text transform="translate(416.40,129.70) rotate(-90) scale(1.05,1)" fill="#000" stroke="#000" stroke-width="0.2"><tspan x="-0.48 5.91" y="0.00" font-size="9.44">CH</tspan><tspan x="12.75" y="1.00" font-size="6.60">4</tspan><tspan x="16.64 19.44 25.13 33.53 35.74 40.33 45.16 47.50 52.99 58.34 63.94 66.80 69.96 78.10 81.23 84.19 89.39" y="0.00" font-size="9.44"> emissions (Mt yr</tspan><tspan x="94.38 99.02" y="-3.60" font-size="6.60">−1</tspan><tspan x="103.54" y="0.00" font-size="9.44">)</tspan></text>
<text transform="translate(416.80,248.90) rotate(-90) scale(1.05,1)" fill="#000" stroke="#000" stroke-width="0.2"><tspan x="-0.48 5.80" y="0.00" font-size="9.44">CO</tspan><tspan x="13.06" y="1.00" font-size="6.60">2</tspan><tspan x="16.95 19.75 25.44 33.84 36.05 40.64 45.47 47.81 53.29 58.65 64.25 67.10 70.14 77.64 80.76 83.72 88.93" y="0.00" font-size="9.44"> emissions (Gt yr</tspan><tspan x="93.92 98.56" y="-3.60" font-size="6.60">−1</tspan><tspan x="103.07" y="0.00" font-size="9.44">)</tspan></text>
<text transform="translate(418.30,335.70) rotate(-90) scale(1.05,1)" fill="#000" stroke="#000" stroke-width="0.2"><tspan x="-0.04 8.84 14.40 18.15 26.54 28.98 34.57 40.08 42.94 46.59 54.55 60.73" y="0.00" font-size="9.44">Warming (mK)</tspan></text>
<text transform="translate(601.10,338.20) rotate(-90) scale(1.05,1)" fill="#000" stroke="#000" stroke-width="0.2"><tspan x="-0.48 6.17 11.95 20.26 23.06 25.44 31.72" y="0.00" font-size="9.44">Cum. CO</tspan><tspan x="38.98" y="1.00" font-size="6.60">2</tspan><tspan x="42.86 48.29 51.15 54.18 61.68 64.86" y="0.00" font-size="9.44">e (Gt)</tspan></text>
<text transform="translate(511.20,369.00) scale(1.05,1)" fill="#000" stroke="#000" stroke-width="0.2"><tspan x="-10.05 -4.12 1.29 6.85" y="0.00" font-size="9.44">Year</tspan></text>
<text transform="translate(31.00,27.20) scale(1.05,1)" fill="#000" stroke="#000" stroke-width="0.2"><tspan x="-0.02 8.26 12.70 16.24 19.89 27.09 33.68 38.24 45.34 52.25 58.59 61.80 69.14 76.38 80.05 87.53 98.56 101.46 107.49 113.83 116.91 124.11 131.14" y="0.00" font-size="12.39">A) Increasing emissions</tspan></text>
<text transform="translate(256.00,13.60) scale(1.05,1)" fill="#000" stroke="#000" stroke-width="0.2"><tspan x="-1.02 7.28 11.72 14.80 22.92 29.66 36.88 44.08 51.31 58.54 66.20 70.42 73.50 80.72 83.94 87.25" y="0.00" font-size="12.39">B) Exponentially</tspan></text>
<text transform="translate(246.00,27.00) scale(1.05,1)" fill="#000" stroke="#000" stroke-width="0.2"><tspan x="-0.83 2.38 9.57 16.17 20.72 27.83 34.73 41.08 44.28 51.62 58.86 62.53 70.01 81.04 83.94 89.97 96.31 99.39 106.60 113.63" y="0.00" font-size="12.39">increasing emissions</tspan></text>
<text transform="translate(449.00,27.20) scale(1.05,1)" fill="#000" stroke="#000" stroke-width="0.2"><tspan x="-0.63 8.08 12.52 15.64 23.89" y="0.00" font-size="12.39">C) CO</tspan><tspan x="33.44" y="1.80" font-size="9.42">2</tspan><tspan x="38.89 43.15 50.27 55.06 63.65 66.77 75.02" y="0.00" font-size="12.39">-e = CO</tspan><tspan x="84.57" y="1.80" font-size="9.42">2</tspan><tspan x="90.01 94.42 103.75 107.42 114.54" y="0.00" font-size="12.39">-w.e.</tspan></text>
<text transform="translate(104.30,192.60) scale(1.05,1)" fill="#ff0000" stroke="#ff0000" stroke-width="0.2"><tspan x="-0.56 7.67 17.47" y="0.00" font-size="11.12">GWP</tspan><tspan x="24.47 29.49 34.51" y="2.30" font-size="8.45">100</tspan></text>
<text transform="translate(105.00,220.30) scale(1.05,1)" fill="#0000ff" stroke="#0000ff" stroke-width="0.2"><tspan x="-0.56 7.67 17.47" y="0.00" font-size="11.12">GWP</tspan><tspan x="24.84" y="1.45" font-size="13.56">*</tspan></text>
<text transform="translate(286.40,178.20) scale(1.05,1)" fill="#0000ff" stroke="#0000ff" stroke-width="0.2"><tspan x="-0.56 7.67 17.47" y="0.00" font-size="11.12">GWP</tspan><tspan x="24.84" y="1.45" font-size="13.56">*</tspan></text>
<text transform="translate(313.00,197.50) scale(1.05,1)" fill="#ff0000" stroke="#ff0000" stroke-width="0.2"><tspan x="-0.56 7.67 17.47" y="0.00" font-size="11.12">GWP</tspan><tspan x="24.47 29.49 34.51" y="2.30" font-size="8.45">100</tspan></text>
<text transform="translate(512.90,190.00) scale(1.05,1)" fill="#0000ff" stroke="#0000ff" stroke-width="0.2"><tspan x="-0.56 7.67 17.47" y="0.00" font-size="11.12">GWP</tspan><tspan x="24.84" y="1.45" font-size="13.56">*</tspan></text>
<text transform="translate(512.90,208.00) scale(1.05,1)" fill="#ff0000" stroke="#ff0000" stroke-width="0.2"><tspan x="-0.56 7.67 17.47" y="0.00" font-size="11.12">GWP</tspan><tspan x="24.47 29.49 34.51" y="2.30" font-size="8.45">100</tspan></text>
<text transform="translate(86.80,303.80) scale(1.05,1)" fill="#ff0000" stroke="#ff0000" stroke-width="0.2"><tspan x="-0.56 7.67 17.47" y="0.00" font-size="11.12">GWP</tspan><tspan x="24.47 29.49 34.51" y="2.30" font-size="8.45">100</tspan></text>
<text transform="translate(111.20,331.30) scale(1.05,1)" fill="#0000ff" stroke="#0000ff" stroke-width="0.2"><tspan x="-0.56 7.67 17.47" y="0.00" font-size="11.12">GWP</tspan><tspan x="24.84" y="1.45" font-size="13.56">*</tspan></text>
<text transform="translate(277.50,300.70) scale(1.05,1)" fill="#0000ff" stroke="#0000ff" stroke-width="0.2"><tspan x="-0.56 7.67 17.47" y="0.00" font-size="11.12">GWP</tspan><tspan x="24.84" y="1.45" font-size="13.56">*</tspan></text>
<text transform="translate(313.00,320.60) scale(1.05,1)" fill="#ff0000" stroke="#ff0000" stroke-width="0.2"><tspan x="-0.56 7.67 17.47" y="0.00" font-size="11.12">GWP</tspan><tspan x="24.47 29.49 34.51" y="2.30" font-size="8.45">100</tspan></text>
<text transform="translate(495.00,299.50) scale(1.05,1)" fill="#ff0000" stroke="#ff0000" stroke-width="0.2"><tspan x="-0.56 7.67 17.47" y="0.00" font-size="11.12">GWP</tspan><tspan x="24.47 29.49 34.51" y="2.30" font-size="8.45">100</tspan></text>
<text transform="translate(530.90,317.90) scale(1.05,1)" fill="#0000ff" stroke="#0000ff" stroke-width="0.2"><tspan x="-0.56 7.67 17.47" y="0.00" font-size="11.12">GWP</tspan><tspan x="24.84" y="1.45" font-size="13.56">*</tspan></text>
</svg>
</body></html>
